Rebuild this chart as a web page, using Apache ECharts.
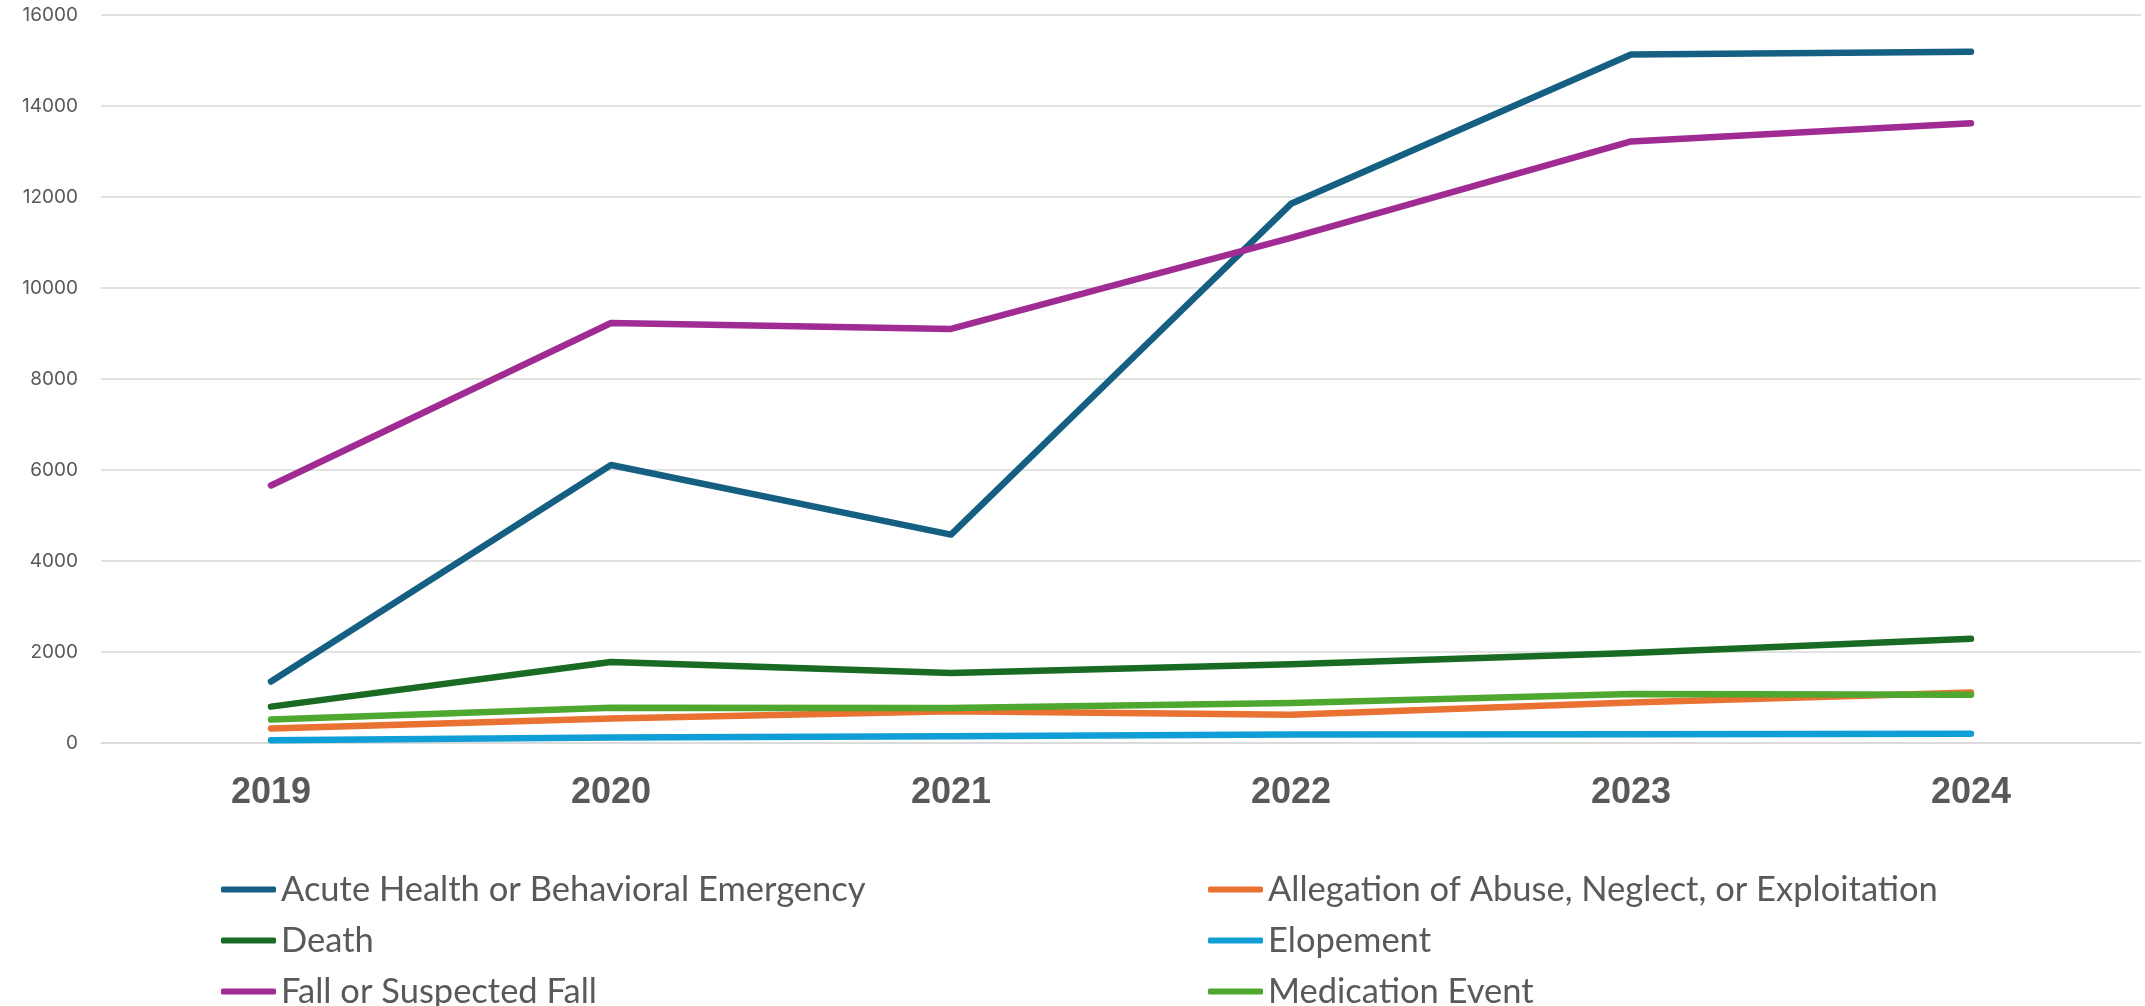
<!DOCTYPE html>
<html>
<head>
<meta charset="utf-8">
<script src="https://cdn.jsdelivr.net/npm/echarts@6/dist/echarts.min.js"></script>
<style>
html,body{margin:0;padding:0;background:#fff;}
#chart{width:2145px;height:1006px;}
</style>
</head>
<body>
<div id="chart"></div>
<script>
const years = ['2019', '2020', '2021', '2022', '2023', '2024'];
const seriesNames = [
  'Acute Health or Behavioral Emergency',
  'Allegation of Abuse, Neglect, or Exploitation',
  'Death',
  'Elopement',
  'Fall or Suspected Fall',
  'Medication Event'
];
const acute = [1350, 6110, 4580, 11850, 15130, 15190];
const allegation = [320, 540, 700, 620, 890, 1110];
const death = [800, 1780, 1540, 1730, 1980, 2290];
const elopement = [60, 120, 150, 185, 190, 205];
const fall = [5660, 9230, 9100, 11100, 13220, 13620];
const medication = [515, 775, 770, 880, 1075, 1060];
const colors = ['#156082', '#E97132', '#196B24', '#0F9ED5', '#A02B93', '#4EA72E'];
const allData = [acute, allegation, death, elopement, fall, medication];

const chart = echarts.init(document.getElementById('chart'));
const legendCommon = {
  orient: 'vertical',
  icon: 'roundRect',
  itemWidth: 55,
  itemHeight: 6,
  itemGap: 16,
  height: 300,
  selectedMode: false,
  textStyle: { fontFamily: 'Lato, sans-serif', fontSize: 34.5, color: '#595959' }
};
chart.setOption({
  animation: false,
  color: colors,
  grid: { left: 101, right: 4, top: 15, bottom: 263, containLabel: false },
  legend: [
    Object.assign({}, legendCommon, { left: 216, top: 867, data: [seriesNames[0], seriesNames[2], seriesNames[4]] }),
    Object.assign({}, legendCommon, { left: 1203, top: 867, data: [seriesNames[1], seriesNames[3], seriesNames[5]] })
  ],
  xAxis: {
    type: 'category',
    data: years,
    boundaryGap: true,
    axisLine: { show: true, lineStyle: { color: '#d9d9d9', width: 1.5 } },
    axisTick: { show: false },
    axisLabel: { fontFamily: "'Liberation Sans', Arial, sans-serif", fontWeight: 'bold', fontSize: 36, color: '#595959', margin: 32 }
  },
  yAxis: {
    type: 'value',
    min: 0,
    max: 16000,
    interval: 2000,
    axisLine: { show: false },
    axisTick: { show: false },
    axisLabel: { fontFamily: 'Inter, sans-serif', fontSize: 19, color: '#595959', margin: 23, formatter: v => String(v) },
    splitLine: { lineStyle: { color: '#d9d9d9', width: 1.5 } }
  },
  series: seriesNames.map((n, i) => ({
    name: n,
    type: 'line',
    data: allData[i],
    showSymbol: false,
    symbol: 'none',
    lineStyle: { width: 6.5, color: colors[i], cap: 'round', join: 'round' },
    itemStyle: { color: colors[i] },
    z: 2 + i
  }))
});
</script>
</body>
</html>
